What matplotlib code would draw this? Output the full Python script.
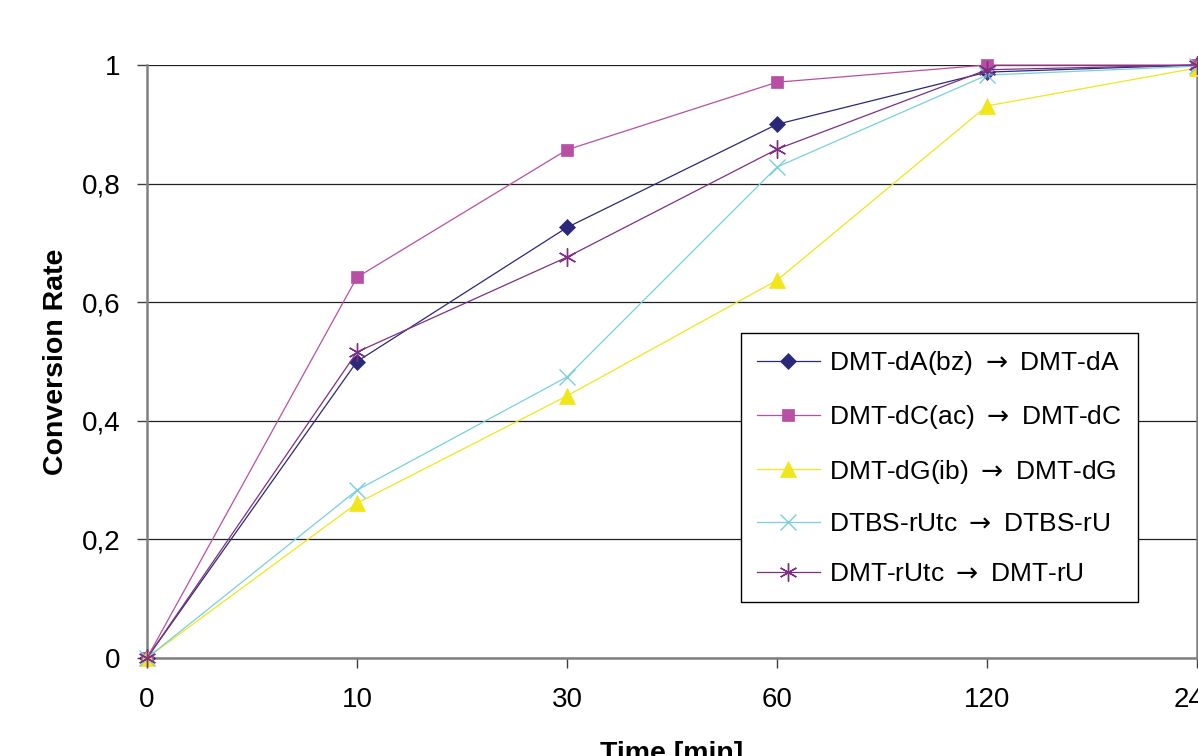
import matplotlib.pyplot as plt
import numpy as np

plt.rcParams['font.family'] = ['Liberation Sans', 'DejaVu Sans']

times = ['0', '10', '30', '60', '120', '240']

dA = [0.0, 0.50, 0.726, 0.90, 0.988, 1.0]
dC = [0.0, 0.642, 0.857, 0.971, 1.0, 1.0]
dG = [0.0, 0.261, 0.442, 0.637, 0.931, 0.995]
rU_tbs = [0.0, 0.283, 0.474, 0.828, 0.983, 0.998]
rU_dmt = [0.0, 0.516, 0.676, 0.858, 0.992, 1.0]

arrow = r' $\rightarrow$ '
labels = ['DMT-dA(bz)' + arrow + 'DMT-dA', 'DMT-dC(ac)' + arrow + 'DMT-dC',
          'DMT-dG(ib)' + arrow + 'DMT-dG', 'DTBS-rUtc' + arrow + 'DTBS-rU',
          'DMT-rUtc' + arrow + 'DMT-rU']

fig = plt.figure(figsize=(11.98, 7.56), dpi=100)
ax = fig.add_axes([147 / 1198, 1 - 658 / 756, 1050 / 1198, 593 / 756])

x = np.arange(len(times))

# series: values, colour, marker, size
series = [
    (dA, '#2a2878', 'D', 8.5),
    (dC, '#b84fa3', 's', 9),
    (dG, '#f0e61a', '^', 12),
    (rU_tbs, '#78cfe0', 'x', 12),
    (rU_dmt, '#7f2f82', (6, 2, 0), 13),
]

for (vals, col, mk, ms), lab in zip(series, labels):
    ax.plot(x, vals, color=col, lw=0.9, marker=mk, markersize=ms,
            markeredgewidth=1.0 if mk in ('x',) or isinstance(mk, tuple) else 0.5,
            markeredgecolor=col, label=lab, clip_on=False, zorder=3)

ax.set_xlim(0, len(times) - 1)
ax.set_ylim(0, 1)
ax.set_xticks(x)
ax.set_xticklabels(times)
yt = [0, 0.2, 0.4, 0.6, 0.8, 1.0]
ax.set_yticks(yt)
ax.set_yticklabels(['0', '0,2', '0,4', '0,6', '0,8', '1'])

ax.grid(axis='y', color='#202020', lw=0.9)
ax.set_axisbelow(True)
ax.spines['top'].set_visible(False)
for s in ['left', 'bottom', 'right']:
    ax.spines[s].set_color('#808080')
    ax.spines[s].set_linewidth(1.8)

ax.tick_params(axis='both', labelsize=20, length=7, width=1, color='#404040')
ax.tick_params(axis='y', pad=12)
ax.tick_params(axis='x', pad=14)

ax.set_ylabel('Conversion Rate', fontsize=20.5, fontweight='bold', labelpad=9)
ax.set_xlabel('Time [min]', fontsize=20.5, fontweight='bold', labelpad=20)

leg = ax.legend(loc='upper left', bbox_to_anchor=(0.5657, 0.548), fontsize=19,
                frameon=True, fancybox=False, edgecolor='black', framealpha=1,
                labelspacing=1.0, handlelength=2.4, handletextpad=0.35,
                borderpad=0.6, borderaxespad=0)
leg.get_frame().set_linewidth(1.0)

fig.savefig('out.png', dpi=100)
